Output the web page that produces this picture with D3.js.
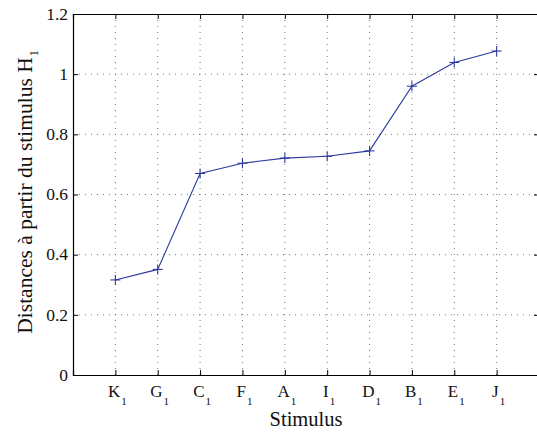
<!DOCTYPE html>
<html><head><meta charset="utf-8">
<script src="https://cdn.jsdelivr.net/npm/d3@7"></script>
<style>body{margin:0;background:#fff}svg{display:block}</style>
</head><body>
<script>
const categories = ["K","G","C","F","A","I","D","B","E","J"];
const values = [0.316, 0.351, 0.670, 0.704, 0.721, 0.727, 0.745, 0.960, 1.039, 1.077];
const yTicks = [0, 0.2, 0.4, 0.6, 0.8, 1, 1.2];
const yTickLabels = ["0","0.2","0.4","0.6","0.8","1","1.2"];

const W = 537, H = 432;
const m = {left: 73, top: 14, right: 539, bottom: 375};
const FF = "'Liberation Serif','Times New Roman',serif";
const svg = d3.select("body").append("svg").attr("width", W).attr("height", H);

const x = d3.scaleLinear().domain([0, 11]).range([m.left, m.right]);
const y = d3.scaleLinear().domain([0, 1.2]).range([m.bottom, m.top]);
const xs = categories.map((c, i) => i + 1);

// grid
const g = svg.append("g");
g.selectAll("line.vx").data(xs).join("line")
  .attr("x1", d => x(d)).attr("x2", d => x(d)).attr("y1", m.top).attr("y2", m.bottom)
  .attr("stroke", "#555").attr("stroke-width", 0.8).attr("stroke-dasharray", "1,5");
g.selectAll("line.hy").data(yTicks.slice(1, -1)).join("line")
  .attr("x1", m.left).attr("x2", m.right).attr("y1", d => y(d)).attr("y2", d => y(d))
  .attr("stroke", "#555").attr("stroke-width", 0.8).attr("stroke-dasharray", "1,5");

// axes
const xAxisB = d3.axisBottom(x).tickValues(xs).tickSize(-5).tickFormat("");
const xAxisT = d3.axisTop(x).tickValues(xs).tickSize(-5).tickFormat("");
const yAxisL = d3.axisLeft(y).tickValues(yTicks).tickSize(-5).tickFormat("");
const yAxisR = d3.axisRight(y).tickValues(yTicks).tickSize(-5).tickFormat("");
[[xAxisB, `translate(0,${m.bottom})`], [xAxisT, `translate(0,${m.top})`],
 [yAxisL, `translate(${m.left},0)`], [yAxisR, `translate(${m.right},0)`]].forEach(([ax, t]) => {
  const a = svg.append("g").attr("transform", t).call(ax);
  a.select(".domain").attr("stroke", "#000").attr("stroke-width", 1.2);
  a.selectAll(".tick line").attr("stroke", "#000").attr("stroke-width", 1);
});

// y tick labels
svg.append("g").selectAll("text").data(yTicks).join("text")
  .style("font-family", FF)
  .attr("x", m.left - 5).attr("y", d => y(d) + 5.7)
  .attr("text-anchor", "end").attr("font-size", 17.5).attr("fill", "#111")
  .text((d, i) => yTickLabels[i]);

// x tick labels with subscript
const xl = svg.append("g").selectAll("text").data(categories).join("text")
  .style("font-family", FF)
  .attr("x", (d, i) => x(xs[i]) + 2).attr("y", 397)
  .attr("text-anchor", "middle").attr("font-size", 17).attr("fill", "#111");
xl.append("tspan").text(d => d);
xl.append("tspan").attr("font-size", 11).attr("dx", 1).attr("dy", 8).text("1");

// axis titles
svg.append("text").style("font-family", FF).attr("x", (m.left + m.right) / 2).attr("y", 426)
  .attr("text-anchor", "middle").attr("font-size", 20.5).attr("fill", "#111").text("Stimulus");
const yl = svg.append("text").style("font-family", FF)
  .attr("transform", `translate(32,192) rotate(-90)`)
  .attr("text-anchor", "middle").attr("font-size", 21.5).attr("fill", "#111");
yl.append("tspan").text("Distances à partir du stimulus  H");
yl.append("tspan").attr("font-size", 12).attr("dx", 1).attr("dy", 6).text("1");

// line
const line = d3.line().x((d, i) => x(xs[i])).y(d => y(d));
svg.append("path").datum(values).attr("d", line)
  .attr("fill", "none").attr("stroke", "#2e3a9e").attr("stroke-width", 1.1);
// markers
const mk = svg.append("g").selectAll("g").data(values).join("g")
  .attr("transform", (d, i) => `translate(${x(xs[i])},${y(d)})`);
mk.append("line").attr("x1", -5).attr("x2", 5).attr("stroke", "#2e3a9e").attr("stroke-width", 1.1);
mk.append("line").attr("y1", -5).attr("y2", 5).attr("stroke", "#2e3a9e").attr("stroke-width", 1.1);
</script>
</body></html>
